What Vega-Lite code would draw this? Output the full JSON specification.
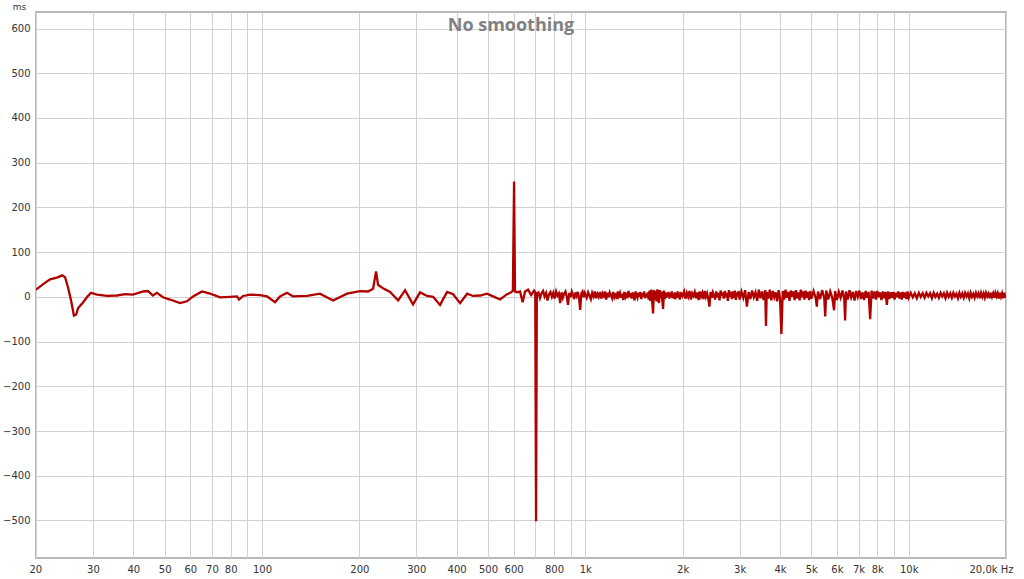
{
  "$schema": "https://vega.github.io/schema/vega-lite/v6.json",
  "autosize": "none",
  "width": 970,
  "height": 546,
  "padding": {"left": 36, "top": 12, "right": 18, "bottom": 21},
  "background": "white",
  "config": {
    "view": {"stroke": "#b8b8b8", "strokeWidth": 2},
    "axis": {"labelFont": "DejaVu Sans", "labelFontSize": 10, "labelColor": "#333333", "gridColor": "#d2d2d2", "gridWidth": 1, "ticks": false, "domain": false}
  },
  "encoding": {
    "x": {"field": "f", "type": "quantitative", "scale": {"type": "log", "domain": [20, 20000], "nice": false},
      "axis": {"title": null, "values": [20,30,40,50,60,70,80,90,100,200,300,400,500,600,700,800,900,1000,2000,3000,4000,5000,6000,7000,8000,9000,10000,20000],
        "labelExpr": "(datum.value == 90 || datum.value == 700 || datum.value == 900 || datum.value == 9000) ? '' : datum.value == 20000 ? '20,0k Hz' : datum.value >= 1000 ? (datum.value/1000) + 'k' : '' + datum.value",
        "labelPadding": 6, "labelFlush": true, "labelFlushOffset": 7, "labelOverlap": false}},
    "y": {"field": "v", "type": "quantitative", "scale": {"domain": [-584, 637], "nice": false, "zero": false},
      "axis": {"title": "ms", "titleAngle": 0, "titleX": -17, "titleY": -6, "titleAlign": "center", "titleBaseline": "middle", "titleFontWeight": "normal", "titleFont": "DejaVu Sans", "titleFontSize": 9, "titleColor": "#333333",
        "values": [-500,-400,-300,-200,-100,0,100,200,300,400,500,600], "labelPadding": 6, "labelOverlap": false}}
  },
  "layer": [
    {
      "data": {"values": [
    {"f":20,"v":16},{"f":21,"v":28},{"f":22.1,"v":39},{"f":23.2,"v":43},{"f":24.1,"v":48},{"f":24.6,"v":44},{"f":25.1,"v":22},{"f":25.7,"v":-10},{"f":26.2,"v":-42},{"f":26.6,"v":-40},{"f":27.0,"v":-25},{"f":28.0,"v":-12},{"f":28.8,"v":0},{"f":29.6,"v":9},{"f":30.9,"v":5},{"f":33.2,"v":2},{"f":35.6,"v":3},{"f":37.7,"v":6},{"f":39.9,"v":5},{"f":42.9,"v":12},{"f":44.4,"v":13},{"f":46.0,"v":3},{"f":47.3,"v":9},{"f":49.4,"v":-1},{"f":51.9,"v":-6},{"f":55.8,"v":-14},{"f":58.6,"v":-10},{"f":61.2,"v":1},{"f":65.2,"v":12},{"f":69.1,"v":7},{"f":74.2,"v":-1},{"f":79.6,"v":0},{"f":83.7,"v":1},{"f":84.9,"v":-6},{"f":87.4,"v":2},{"f":91.8,"v":5},{"f":98.6,"v":4},{"f":103.6,"v":1},{"f":109.7,"v":-12},{"f":113.7,"v":1},{"f":119.5,"v":9},{"f":124.7,"v":1},{"f":137.8,"v":2},{"f":151.1,"v":7},{"f":165.9,"v":-8},{"f":183.2,"v":7},{"f":201.0,"v":13},{"f":212.8,"v":12},{"f":220.6,"v":18},{"f":225.3,"v":57},{"f":228.5,"v":27},{"f":236.8,"v":19},{"f":249.0,"v":11},{"f":263.7,"v":-8},{"f":277.0,"v":15},{"f":293.2,"v":-17},{"f":308.2,"v":10},{"f":324.0,"v":2},{"f":338.1,"v":0},{"f":355.4,"v":-18},{"f":373.6,"v":11},{"f":390.0,"v":6},{"f":409.9,"v":-14},{"f":430.9,"v":7},{"f":449.5,"v":2},{"f":472.6,"v":3},{"f":496.6,"v":7},{"f":518.6,"v":1},{"f":544.9,"v":-6},{"f":572.8,"v":6},{"f":590,"v":10},{"f":597,"v":14},{"f":602,"v":258},{"f":606,"v":12},{"f":615,"v":10},{"f":628,"v":12},{"f":640,"v":-12},{"f":651,"v":12},{"f":665,"v":16},{"f":680,"v":4},{"f":694,"v":14},{"f":700,"v":10},{"f":704,"v":-502},{"f":708,"v":8},
    {"f":716,"v":10},{"f":724,"v":-3},{"f":732,"v":8},{"f":740,"v":13},{"f":748,"v":1},{"f":756,"v":9},{"f":764,"v":-8},{"f":772,"v":6},{"f":780,"v":11},{"f":788,"v":0},{"f":796,"v":9},{"f":804,"v":-4},{"f":812,"v":12},{"f":820,"v":3},{"f":828,"v":8},{"f":836,"v":-14},{"f":844,"v":10},{"f":852,"v":-2},{"f":860,"v":7},{"f":868,"v":12},{"f":876,"v":1},{"f":884,"v":-18},{"f":892,"v":9},{"f":900,"v":-1},{"f":908,"v":12},{"f":916,"v":4},{"f":924,"v":-5},{"f":932,"v":10},{"f":940,"v":2},{"f":948,"v":11},{"f":956,"v":-2},{"f":964,"v":-29},{"f":972,"v":8},{"f":980,"v":12},{"f":988,"v":-1},{"f":996,"v":9},
    {"f":1000,"v":6},{"f":1010,"v":-2},{"f":1020,"v":10},{"f":1030,"v":3},{"f":1040,"v":-5},{"f":1050,"v":9},{"f":1060,"v":1},{"f":1070,"v":12},{"f":1080,"v":-3},{"f":1090,"v":7},{"f":1100,"v":0},{"f":1110,"v":11},{"f":1120,"v":-4},{"f":1130,"v":8},{"f":1140,"v":2},{"f":1150,"v":12},{"f":1160,"v":-6},{"f":1170,"v":9},{"f":1180,"v":-1},{"f":1190,"v":10},{"f":1200,"v":4},{"f":1210,"v":-3},{"f":1220,"v":11},{"f":1230,"v":0},{"f":1240,"v":8},{"f":1250,"v":-5},{"f":1260,"v":12},{"f":1270,"v":2},{"f":1280,"v":9},{"f":1290,"v":-2},{"f":1300,"v":7},{"f":1310,"v":-7},{"f":1320,"v":11},{"f":1330,"v":1},{"f":1340,"v":9},{"f":1350,"v":-3},{"f":1360,"v":13},{"f":1370,"v":0},{"f":1380,"v":8},{"f":1390,"v":-4},{"f":1400,"v":10},{"f":1410,"v":2},{"f":1420,"v":-8},{"f":1430,"v":12},{"f":1440,"v":4},{"f":1450,"v":-2},{"f":1460,"v":9},{"f":1470,"v":0},{"f":1480,"v":11},{"f":1490,"v":-5},{"f":1500,"v":8},{"f":1510,"v":1},{"f":1520,"v":12},{"f":1530,"v":-3},{"f":1540,"v":7},{"f":1550,"v":-1},{"f":1560,"v":10},{"f":1570,"v":-6},{"f":1580,"v":14},{"f":1590,"v":-9},{"f":1600,"v":16},{"f":1610,"v":-12},{"f":1620,"v":-37},{"f":1630,"v":15},{"f":1640,"v":-6},{"f":1650,"v":13},{"f":1660,"v":-10},{"f":1670,"v":17},{"f":1680,"v":-4},{"f":1690,"v":-14},{"f":1700,"v":15},{"f":1710,"v":-3},{"f":1720,"v":12},{"f":1730,"v":-8},{"f":1740,"v":-27},{"f":1750,"v":14},{"f":1760,"v":-5},{"f":1770,"v":10},{"f":1780,"v":-2},{"f":1790,"v":9},{"f":1800,"v":1},{"f":1810,"v":11},{"f":1820,"v":-4},{"f":1830,"v":8},{"f":1840,"v":0},{"f":1850,"v":12},{"f":1860,"v":-3},{"f":1870,"v":7},{"f":1880,"v":2},{"f":1890,"v":10},{"f":1900,"v":-5},{"f":1910,"v":9},{"f":1920,"v":1},{"f":1930,"v":12},{"f":1940,"v":-2},{"f":1950,"v":8},{"f":1960,"v":-6},{"f":1970,"v":11},{"f":1980,"v":0},{"f":1990,"v":9},
    {"f":2000,"v":3},{"f":2020,"v":12},{"f":2040,"v":-4},{"f":2060,"v":9},{"f":2080,"v":0},{"f":2100,"v":13},{"f":2120,"v":-6},{"f":2140,"v":8},{"f":2160,"v":2},{"f":2180,"v":11},{"f":2200,"v":-3},{"f":2220,"v":10},{"f":2240,"v":-7},{"f":2260,"v":12},{"f":2280,"v":1},{"f":2300,"v":9},{"f":2320,"v":-5},{"f":2340,"v":13},{"f":2360,"v":0},{"f":2380,"v":8},{"f":2400,"v":-4},{"f":2420,"v":-22},{"f":2440,"v":11},{"f":2460,"v":-2},{"f":2480,"v":10},{"f":2500,"v":3},{"f":2520,"v":-6},{"f":2540,"v":12},{"f":2560,"v":-1},{"f":2580,"v":9},{"f":2600,"v":-8},{"f":2620,"v":14},{"f":2640,"v":2},{"f":2660,"v":10},{"f":2680,"v":-4},{"f":2700,"v":13},{"f":2720,"v":-1},{"f":2740,"v":9},{"f":2760,"v":-9},{"f":2780,"v":15},{"f":2800,"v":0},{"f":2820,"v":11},{"f":2840,"v":-5},{"f":2860,"v":12},{"f":2880,"v":-2},{"f":2900,"v":14},{"f":2920,"v":-7},{"f":2940,"v":10},{"f":2960,"v":1},{"f":2980,"v":13},
    {"f":3000,"v":-6},{"f":3040,"v":12},{"f":3080,"v":-2},{"f":3120,"v":15},{"f":3160,"v":-22},{"f":3200,"v":11},{"f":3240,"v":-5},{"f":3280,"v":14},{"f":3320,"v":-1},{"f":3360,"v":10},{"f":3400,"v":-9},{"f":3440,"v":16},{"f":3480,"v":-3},{"f":3520,"v":12},{"f":3560,"v":-7},{"f":3600,"v":15},{"f":3620,"v":-65},{"f":3640,"v":11},{"f":3680,"v":-4},{"f":3720,"v":16},{"f":3760,"v":-8},{"f":3800,"v":13},{"f":3840,"v":-1},{"f":3880,"v":10},{"f":3920,"v":-10},{"f":3960,"v":15},{"f":4000,"v":-3},{"f":4040,"v":-83},{"f":4080,"v":13},{"f":4120,"v":-6},{"f":4160,"v":16},{"f":4200,"v":-2},{"f":4240,"v":11},{"f":4280,"v":-9},{"f":4320,"v":14},{"f":4360,"v":0},{"f":4400,"v":12},{"f":4440,"v":-7},{"f":4480,"v":15},{"f":4520,"v":-3},{"f":4560,"v":10},{"f":4600,"v":-8},{"f":4640,"v":16},{"f":4680,"v":-1},{"f":4720,"v":12},{"f":4760,"v":-6},{"f":4800,"v":14},{"f":4840,"v":-2},{"f":4880,"v":11},{"f":4920,"v":-7},{"f":4960,"v":13},
    {"f":5000,"v":-4},{"f":5080,"v":13},{"f":5160,"v":-3},{"f":5200,"v":-22},{"f":5240,"v":12},{"f":5320,"v":-5},{"f":5400,"v":15},{"f":5480,"v":-2},{"f":5520,"v":-44},{"f":5560,"v":14},{"f":5640,"v":-6},{"f":5720,"v":12},{"f":5800,"v":-1},{"f":5880,"v":-30},{"f":5920,"v":13},{"f":6000,"v":-7},{"f":6080,"v":11},{"f":6160,"v":-2},{"f":6240,"v":14},{"f":6320,"v":-4},{"f":6360,"v":-53},{"f":6400,"v":12},{"f":6480,"v":-6},{"f":6560,"v":15},{"f":6640,"v":-1},{"f":6720,"v":11},{"f":6800,"v":-8},{"f":6880,"v":13},{"f":6960,"v":0},{"f":7040,"v":14},{"f":7120,"v":-5},{"f":7200,"v":10},{"f":7280,"v":-7},{"f":7360,"v":13},{"f":7440,"v":-2},{"f":7520,"v":11},{"f":7600,"v":-50},{"f":7680,"v":14},{"f":7760,"v":-4},{"f":7840,"v":12},{"f":7920,"v":-6},{"f":8000,"v":13},{"f":8080,"v":-1},{"f":8160,"v":10},{"f":8240,"v":-7},{"f":8320,"v":12},{"f":8400,"v":-3},{"f":8480,"v":11},{"f":8560,"v":-18},{"f":8640,"v":12},{"f":8720,"v":-5},{"f":8800,"v":10},{"f":8880,"v":-2},{"f":8960,"v":11},{"f":9040,"v":-6},{"f":9120,"v":9},{"f":9200,"v":-1},{"f":9280,"v":12},{"f":9360,"v":-4},{"f":9440,"v":10},{"f":9520,"v":-6},{"f":9600,"v":11},{"f":9680,"v":-2},{"f":9760,"v":10},{"f":9840,"v":-5},{"f":9920,"v":12},
    {"f":10000,"v":-2},{"f":10150,"v":9},{"f":10300,"v":-1},{"f":10450,"v":8},{"f":10600,"v":-3},{"f":10750,"v":9},{"f":10900,"v":0},{"f":11050,"v":8},{"f":11200,"v":-2},{"f":11350,"v":9},{"f":11500,"v":1},{"f":11650,"v":8},{"f":11800,"v":-3},{"f":11950,"v":9},{"f":12100,"v":0},{"f":12250,"v":7},{"f":12400,"v":-2},{"f":12550,"v":9},{"f":12700,"v":1},{"f":12850,"v":8},{"f":13000,"v":-3},{"f":13150,"v":9},{"f":13300,"v":0},{"f":13450,"v":8},{"f":13600,"v":-2},{"f":13750,"v":9},{"f":13900,"v":1},{"f":14050,"v":7},{"f":14200,"v":-3},{"f":14350,"v":9},{"f":14500,"v":0},{"f":14650,"v":8},{"f":14800,"v":-2},{"f":14950,"v":9},{"f":15100,"v":1},{"f":15250,"v":8},{"f":15400,"v":-3},{"f":15550,"v":9},{"f":15700,"v":0},{"f":15850,"v":7},{"f":16000,"v":-2},{"f":16150,"v":9},{"f":16300,"v":1},{"f":16450,"v":8},{"f":16600,"v":-3},{"f":16750,"v":9},{"f":16900,"v":0},{"f":17050,"v":8},{"f":17200,"v":-2},{"f":17350,"v":9},{"f":17500,"v":1},{"f":17650,"v":7},{"f":17800,"v":-3},{"f":17950,"v":9},{"f":18100,"v":0},{"f":18250,"v":8},{"f":18400,"v":-2},{"f":18550,"v":9},{"f":18700,"v":1},{"f":18850,"v":8},{"f":19000,"v":-4},{"f":19150,"v":9},{"f":19300,"v":0},{"f":19450,"v":8},{"f":19600,"v":-3},{"f":19750,"v":9},{"f":19900,"v":-2},{"f":20000,"v":4}
      ]},
      "mark": {"type": "line", "color": "#b00000", "strokeWidth": 2.3, "clip": true}
    },
    {
      "data": {"values": [{"f": 589, "v": 606, "label": "No smoothing"}]},
      "mark": {"type": "text", "align": "center", "baseline": "middle", "fontSize": 18, "fontWeight": "bold", "color": "#808080", "font": "Open Sans"},
      "encoding": {"text": {"field": "label", "type": "nominal"}}
    }
  ]
}
